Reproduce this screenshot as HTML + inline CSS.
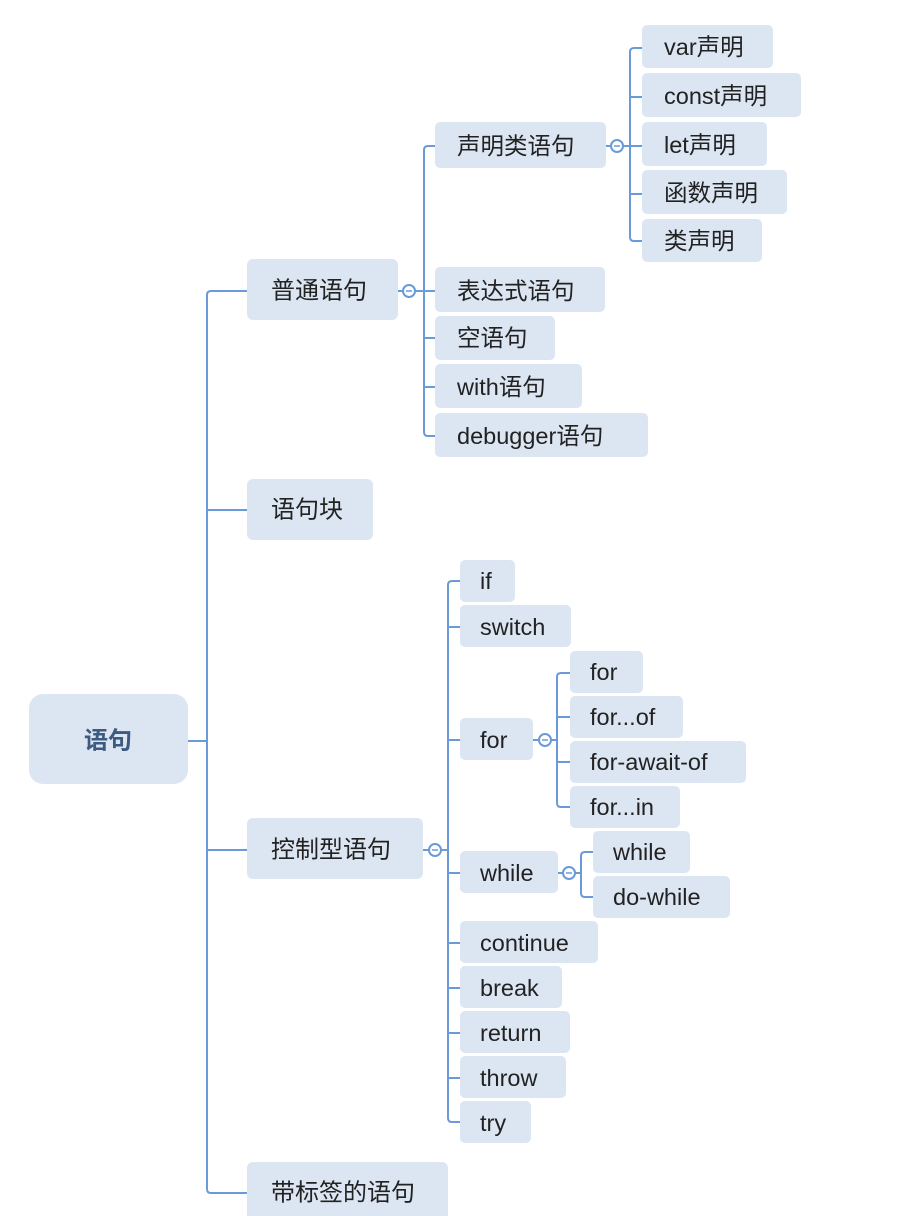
<!DOCTYPE html>
<html><head><meta charset="utf-8"><style>
html,body{margin:0;padding:0;background:#fff;width:902px;height:1216px;overflow:hidden}
svg text{font-family:"Liberation Sans","Noto Sans CJK SC",sans-serif;fill:#222;font-size:23.5px;dominant-baseline:central;text-anchor:start}
</style></head><body>
<svg width="902" height="1216" xmlns="http://www.w3.org/2000/svg">
<g fill="none" stroke="#6a9ad8" stroke-width="2">
<line x1="188" y1="741" x2="207" y2="741"/>
<path d="M247 291 H211 Q207 291 207 295 V1189 Q207 1193 211 1193 H247"/>
<line x1="207" y1="510" x2="247" y2="510"/>
<line x1="207" y1="850" x2="247" y2="850"/>
<line x1="398" y1="291" x2="403" y2="291"/>
<circle cx="409" cy="291" r="6"/>
<line x1="415" y1="291" x2="435" y2="291"/>
<path d="M435 146 H428 Q424 146 424 150 V432 Q424 436 428 436 H435"/>
<line x1="424" y1="338" x2="435" y2="338"/>
<line x1="424" y1="387" x2="435" y2="387"/>
<line x1="606" y1="146" x2="611" y2="146"/>
<circle cx="617" cy="146" r="6"/>
<line x1="623" y1="146" x2="642" y2="146"/>
<path d="M642 48 H634 Q630 48 630 52 V237 Q630 241 634 241 H642"/>
<line x1="630" y1="97" x2="642" y2="97"/>
<line x1="630" y1="194" x2="642" y2="194"/>
<line x1="423" y1="850" x2="429" y2="850"/>
<circle cx="435" cy="850" r="6"/>
<line x1="441" y1="850" x2="448" y2="850"/>
<path d="M460 581 H452 Q448 581 448 585 V1118 Q448 1122 452 1122 H460"/>
<line x1="448" y1="627" x2="460" y2="627"/>
<line x1="448" y1="740" x2="460" y2="740"/>
<line x1="448" y1="873" x2="460" y2="873"/>
<line x1="448" y1="943" x2="460" y2="943"/>
<line x1="448" y1="988" x2="460" y2="988"/>
<line x1="448" y1="1033" x2="460" y2="1033"/>
<line x1="448" y1="1078" x2="460" y2="1078"/>
<line x1="533" y1="740" x2="539" y2="740"/>
<circle cx="545" cy="740" r="6"/>
<line x1="551" y1="740" x2="557" y2="740"/>
<path d="M570 673 H561 Q557 673 557 677 V803 Q557 807 561 807 H570"/>
<line x1="557" y1="717" x2="570" y2="717"/>
<line x1="557" y1="762" x2="570" y2="762"/>
<line x1="558" y1="873" x2="563" y2="873"/>
<circle cx="569" cy="873" r="6"/>
<line x1="575" y1="873" x2="581" y2="873"/>
<path d="M593 852 H585 Q581 852 581 856 V893 Q581 897 585 897 H593"/>
</g>
<g stroke="#6a9ad8" stroke-width="1.5">
<line x1="406" y1="291" x2="412" y2="291"/><line x1="614" y1="146" x2="620" y2="146"/>
<line x1="432" y1="850" x2="438" y2="850"/><line x1="542" y1="740" x2="548" y2="740"/>
<line x1="566" y1="873" x2="572" y2="873"/>
</g>
<g fill="#dce6f2">
<rect x="29" y="694" width="159" height="90" rx="14"/>
<rect x="247" y="259" width="151" height="61" rx="6"/>
<rect x="247" y="479" width="126" height="61" rx="6"/>
<rect x="247" y="818" width="176" height="61" rx="6"/>
<rect x="247" y="1162" width="201" height="70" rx="6"/>
<rect x="435" y="122" width="171" height="46" rx="5"/>
<rect x="435" y="267" width="170" height="45" rx="5"/>
<rect x="435" y="316" width="120" height="44" rx="5"/>
<rect x="435" y="364" width="147" height="44" rx="5"/>
<rect x="435" y="413" width="213" height="44" rx="5"/>
<rect x="642" y="25" width="131" height="43" rx="5"/>
<rect x="642" y="73" width="159" height="44" rx="5"/>
<rect x="642" y="122" width="125" height="44" rx="5"/>
<rect x="642" y="170" width="145" height="44" rx="5"/>
<rect x="642" y="219" width="120" height="43" rx="5"/>
<rect x="460" y="560" width="55" height="42" rx="5"/>
<rect x="460" y="605" width="111" height="42" rx="5"/>
<rect x="460" y="718" width="73" height="42" rx="5"/>
<rect x="460" y="851" width="98" height="42" rx="5"/>
<rect x="460" y="921" width="138" height="42" rx="5"/>
<rect x="460" y="966" width="102" height="42" rx="5"/>
<rect x="460" y="1011" width="110" height="42" rx="5"/>
<rect x="460" y="1056" width="106" height="42" rx="5"/>
<rect x="460" y="1101" width="71" height="42" rx="5"/>
<rect x="570" y="651" width="73" height="42" rx="5"/>
<rect x="570" y="696" width="113" height="42" rx="5"/>
<rect x="570" y="741" width="176" height="42" rx="5"/>
<rect x="570" y="786" width="110" height="42" rx="5"/>
<rect x="593" y="831" width="97" height="42" rx="5"/>
<rect x="593" y="876" width="137" height="42" rx="5"/>
</g>
<text x="108" y="741" style="fill:#3d5a80;font-weight:bold;text-anchor:middle;font-size:24px">语句</text>
<text x="271" y="291" style="font-size:24px">普通语句</text>
<text x="271" y="510" style="font-size:24px">语句块</text>
<text x="271" y="850" style="font-size:24px">控制型语句</text>
<text x="271" y="1193" style="font-size:24px">带标签的语句</text>
<text x="457" y="146">声明类语句</text>
<text x="457" y="291">表达式语句</text>
<text x="457" y="338">空语句</text>
<text x="457" y="387">with语句</text>
<text x="457" y="436">debugger语句</text>
<text x="664" y="47">var声明</text>
<text x="664" y="96">const声明</text>
<text x="664" y="145">let声明</text>
<text x="664" y="193">函数声明</text>
<text x="664" y="241">类声明</text>
<text x="480" y="581">if</text>
<text x="480" y="627">switch</text>
<text x="480" y="740">for</text>
<text x="480" y="873">while</text>
<text x="480" y="943">continue</text>
<text x="480" y="988">break</text>
<text x="480" y="1033">return</text>
<text x="480" y="1078">throw</text>
<text x="480" y="1123">try</text>
<text x="590" y="672">for</text>
<text x="590" y="717">for...of</text>
<text x="590" y="762">for-await-of</text>
<text x="590" y="807">for...in</text>
<text x="613" y="852">while</text>
<text x="613" y="897">do-while</text>
</svg>
</body></html>
